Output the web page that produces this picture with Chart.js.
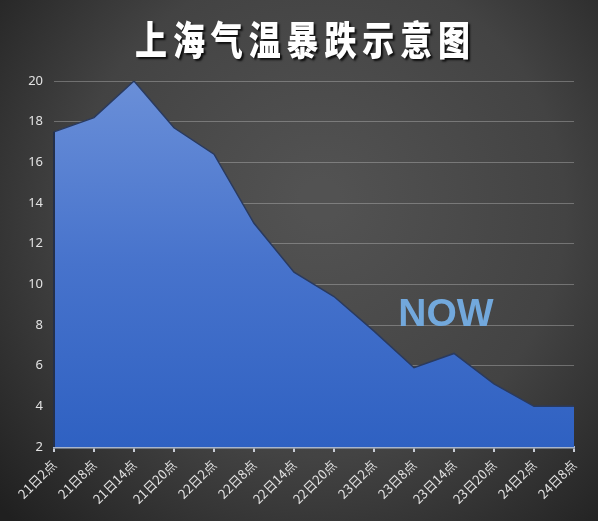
<!DOCTYPE html>
<html>
<head>
<meta charset="utf-8">
<script src="https://cdn.jsdelivr.net/npm/chart.js@4/dist/chart.umd.min.js"></script>
<style>
html,body{margin:0;padding:0;background:#333;}
#wrap{width:598px;height:521px;position:relative;}
</style>
</head>
<body>
<div id="wrap"><canvas id="c"></canvas></div>
<script>
const titleText = '上海气温暴跌示意图';
const noteText = 'NOW';
const categories = ['21日2点','21日8点','21日14点','21日20点','22日2点','22日8点','22日14点','22日20点','23日2点','23日8点','23日14点','23日20点','24日2点','24日8点'];
const temperatures = [17.5, 18.2, 20, 17.7, 16.4, 13.0, 10.6, 9.4, 7.7, 5.9, 6.6, 5.1, 4.0, 4.0];
const yMin = 2, yMax = 20, yStep = 2;

const bgPlugin = {
  id: 'bg',
  beforeDraw(chart) {
    const ctx = chart.ctx, w = chart.width, h = chart.height;
    ctx.save();
    const g = ctx.createRadialGradient(320, 200, 20, 320, 220, 430);
    g.addColorStop(0, '#525252');
    g.addColorStop(0.55, '#434343');
    g.addColorStop(1, '#202020');
    ctx.fillStyle = g;
    ctx.fillRect(0, 0, w, h);
    ctx.restore();
  },
  afterDatasetsDraw(chart) {
    const ctx = chart.ctx, xs = chart.scales.x, ys = chart.scales.y;
    ctx.save();
    ctx.strokeStyle = '#24304a';
    ctx.lineWidth = 2;
    ctx.beginPath();
    ctx.moveTo(xs.getPixelForValue(0), ys.getPixelForValue(temperatures[0]));
    ctx.lineTo(xs.getPixelForValue(0), ys.getPixelForValue(yMin));
    ctx.stroke();
    ctx.restore();
  },
  afterDraw(chart) {
    const ctx = chart.ctx;
    ctx.save();
    ctx.font = '900 40px "Noto Sans CJK SC"';
    ctx.textAlign = 'center';
    ctx.textBaseline = 'middle';
    const chars = Array.from(titleText);
    const x0 = 151, x1 = 454;
    const pitch = (x1 - x0) / (chars.length - 1);
    chars.forEach((ch, i) => {
      ctx.save();
      ctx.translate(x0 + i * pitch, 40);
      ctx.scale(0.8, 1);
      ctx.shadowColor = 'rgba(0,0,0,0.8)';
      ctx.shadowOffsetX = 2;
      ctx.shadowOffsetY = 2;
      ctx.shadowBlur = 2;
      ctx.fillStyle = '#ffffff';
      ctx.fillText(ch, 0, 0);
      ctx.restore();
    });
    const xs = chart.scales.x, ys = chart.scales.y;
    const nx = (xs.getPixelForValue(9) + xs.getPixelForValue(10)) / 2 + 12;
    const ny = ys.getPixelForValue(8.5);
    ctx.font = 'bold 39px "Liberation Sans"';
    ctx.fillStyle = '#72a8dc';
    ctx.fillText(noteText, nx, ny);
    ctx.restore();
  }
};

const ctx = document.getElementById('c').getContext('2d');
new Chart(ctx, {
  type: 'line',
  data: {
    labels: categories,
    datasets: [{
      data: temperatures,
      fill: 'start',
      tension: 0,
      pointRadius: 0,
      borderColor: '#2a3a5e',
      borderWidth: 1.5,
      backgroundColor(context) {
        const area = context.chart.chartArea;
        if (!area) return '#4472c4';
        const g = context.chart.ctx.createLinearGradient(0, area.top, 0, area.bottom);
        g.addColorStop(0, '#6a8fd8');
        g.addColorStop(0.5, '#4773cc');
        g.addColorStop(1, '#2f61c2');
        return g;
      }
    }]
  },
  options: {
    responsive: true,
    maintainAspectRatio: false,
    animation: false,
    devicePixelRatio: 1,
    layout: { padding: { top: 81, right: 24, left: 0, bottom: 0 } },
    plugins: { legend: { display: false }, tooltip: { enabled: false }, title: { display: false } },
    scales: {
      x: {
        offset: false,
        afterFit(s) { s.height = 74; },
        grid: { display: true, drawOnChartArea: false, drawTicks: true, tickLength: 5, tickColor: '#c8ccd4', lineWidth: 2 },
        border: { display: true, color: '#a9b6cc', width: 2.5 },
        ticks: {
          color: '#e2e2e2',
          font: { family: '"Noto Sans CJK SC"', size: 13 },
          minRotation: 45, maxRotation: 45,
          autoSkip: false,
          padding: 5
        }
      },
      y: {
        min: yMin, max: yMax,
        afterFit(s) { s.width = 54; },
        grid: { color: 'rgba(210,210,210,0.35)', lineWidth: 1, drawTicks: false },
        border: { display: false },
        ticks: {
          stepSize: yStep,
          color: '#e2e2e2',
          font: { family: '"Noto Sans"', size: 13 },
          padding: 11
        }
      }
    }
  },
  plugins: [bgPlugin]
});
</script>
</body>
</html>
